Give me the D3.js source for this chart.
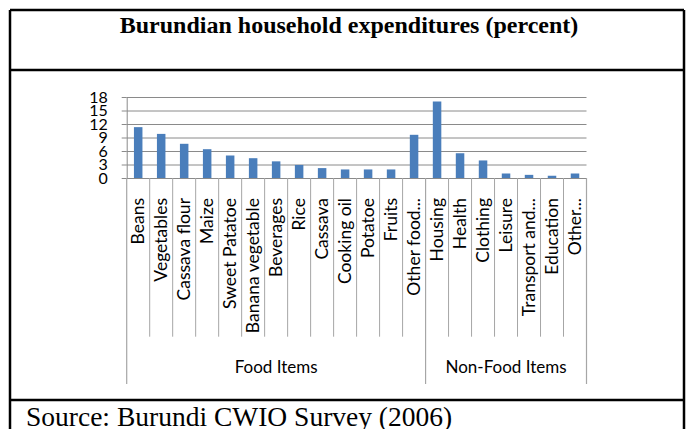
<!DOCTYPE html>
<html>
<head>
<meta charset="utf-8">
<script src="https://cdn.jsdelivr.net/npm/d3@7"></script>
<style>
  body { margin: 0; background: #fff; }
  svg { display: block; }
</style>
</head>
<body>
<script>
// Household expenditure shares (percent) by item
const categories = [
  "Beans", "Vegetables", "Cassava flour", "Maize", "Sweet Patatoe",
  "Banana vegetable", "Beverages", "Rice", "Cassava", "Cooking oil",
  "Potatoe", "Fruits", "Other food...", "Housing", "Health", "Clothing",
  "Leisure", "Transport and...", "Education", "Other..."
];
const values = [
  11.3, 9.8, 7.6, 6.4, 5.0,
  4.4, 3.7, 2.9, 2.2, 1.9,
  1.9, 1.9, 9.6, 17.0, 5.5, 3.9,
  1.0, 0.7, 0.5, 1.0
];
const groupNames = ["Food Items", "Non-Food Items"];
const groupSizes = [13, 7];
const yTicks = [0, 3, 6, 9, 12, 15, 18];

const W = 692, H = 429;
const plot = { left: 126.7, right: 586.5, top: 97, bottom: 178 };
const sansFont = "Lato, 'Open Sans', sans-serif";
const serifFont = "'Liberation Serif', 'Times New Roman', serif";

const svg = d3.select("body").append("svg")
  .attr("width", W).attr("height", H);

// Outer table frame with title and source rows
const frame = svg.append("g")
  .attr("stroke", "#000").attr("stroke-width", 2.5).attr("fill", "none");
frame.append("line").attr("x1", 10).attr("x2", 684).attr("y1", 10).attr("y2", 10);
frame.append("line").attr("x1", 10).attr("x2", 684).attr("y1", 70).attr("y2", 70);
frame.append("line").attr("x1", 10).attr("x2", 684).attr("y1", 400).attr("y2", 400);
frame.append("line").attr("x1", 10).attr("x2", 10).attr("y1", 10).attr("y2", H + 2);
frame.append("line").attr("x1", 684).attr("x2", 684).attr("y1", 10).attr("y2", H + 2);

svg.append("text")
  .attr("x", 349).attr("y", 33)
  .attr("text-anchor", "middle")
  .attr("font-family", serifFont).attr("font-weight", "bold")
  .attr("font-size", 24).attr("fill", "#000")
  .text("Burundian household expenditures (percent)");

svg.append("text")
  .attr("x", 26).attr("y", 426)
  .attr("font-family", serifFont)
  .attr("font-size", 27.5).attr("fill", "#000")
  .text("Source: Burundi CWIO Survey (2006)");

// Scales
const x = d3.scaleBand().domain(categories)
  .range([plot.left, plot.right]).paddingInner(0).paddingOuter(0);
const xBar = d3.scaleBand().domain(categories)
  .range([plot.left, plot.right]).paddingInner(0.63).paddingOuter(0.315);
const y = d3.scaleLinear().domain([0, 18]).range([plot.bottom, plot.top]);

// Horizontal gridlines
svg.append("g")
  .attr("transform", `translate(${plot.left},0)`)
  .call(d3.axisLeft(y).tickValues(yTicks)
    .tickSize(-(plot.right - plot.left)).tickFormat(""))
  .call(g => g.select(".domain").remove())
  .call(g => g.selectAll(".tick line").attr("stroke", "#8a8a8a").attr("stroke-width", 1));

// Value axis with tick marks and labels
svg.append("g")
  .attr("transform", `translate(${plot.left},0)`)
  .call(d3.axisLeft(y).tickValues(yTicks).tickSize(5).tickPadding(14).tickSizeOuter(0))
  .call(g => g.select(".domain").attr("stroke", "#8a8a8a"))
  .call(g => g.selectAll(".tick line").attr("stroke", "#8a8a8a"))
  .call(g => g.selectAll(".tick text")
    .attr("font-family", sansFont).attr("font-size", 16).attr("fill", "#000"));

// Bars
svg.append("g").selectAll("rect")
  .data(categories)
  .join("rect")
  .attr("x", d => xBar(d))
  .attr("width", xBar.bandwidth())
  .attr("y", (d, i) => y(values[i]))
  .attr("height", (d, i) => y(0) - y(values[i]))
  .attr("fill", "#4a7ebb");

// Category separators below the axis
const catAxis = svg.append("g");
const bounds = categories.map(c => x(c)).concat([plot.right]);
const groupEdges = [0];
groupSizes.forEach(n => groupEdges.push(groupEdges[groupEdges.length - 1] + n));
catAxis.selectAll("line.cat")
  .data(bounds.map((b, i) => i).filter(i => !groupEdges.includes(i)))
  .join("line")
  .attr("class", "cat")
  .attr("x1", i => bounds[i]).attr("x2", i => bounds[i])
  .attr("y1", plot.bottom).attr("y2", 336.7)
  .attr("stroke", "#a6a6a6").attr("stroke-width", 1);
catAxis.selectAll("line.grp")
  .data(groupEdges)
  .join("line")
  .attr("class", "grp")
  .attr("x1", i => bounds[i]).attr("x2", i => bounds[i])
  .attr("y1", plot.bottom).attr("y2", 384)
  .attr("stroke", "#a6a6a6").attr("stroke-width", 1.2);

// Rotated category labels
catAxis.selectAll("text.cat")
  .data(categories)
  .join("text")
  .attr("class", "cat")
  .attr("transform", d => `translate(${x(d) + x.bandwidth() / 2},198) rotate(-90)`)
  .attr("text-anchor", "end")
  .attr("dy", "0.35em")
  .attr("font-family", sansFont).attr("font-size", 17.5).attr("fill", "#000")
  .text(d => d);

// Group labels
catAxis.selectAll("text.grp")
  .data(groupNames)
  .join("text")
  .attr("class", "grp")
  .attr("x", (d, i) => (bounds[groupEdges[i]] + bounds[groupEdges[i + 1]]) / 2)
  .attr("y", 372.7)
  .attr("text-anchor", "middle")
  .attr("font-family", sansFont).attr("font-size", 17).attr("fill", "#000")
  .text(d => d);
</script>
</body>
</html>
